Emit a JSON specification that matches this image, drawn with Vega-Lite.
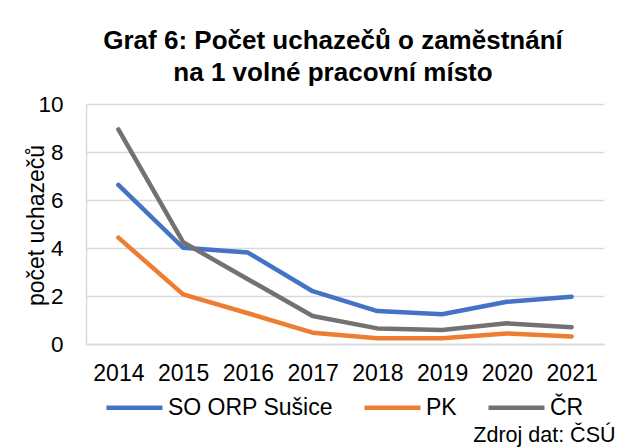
{
  "$schema": "https://vega.github.io/schema/vega-lite/v6.json",
  "autosize": {"type": "none"},
  "width": 518,
  "height": 240,
  "padding": {"left": 86, "top": 104, "right": 23, "bottom": 103},
  "background": "white",
  "title": {
    "text": ["Graf 6: Počet uchazečů o zaměstnání", "na 1 volné pracovní místo"],
    "font": "Liberation Sans",
    "fontSize": 26,
    "fontWeight": "bold",
    "color": "#000000",
    "anchor": "middle",
    "lineHeight": 32,
    "dx": -12,
    "offset": 7
  },
  "data": {
    "values": [
      {"year": "2014", "series": "SO ORP Sušice", "value": 6.63},
      {"year": "2015", "series": "SO ORP Sušice", "value": 4.01},
      {"year": "2016", "series": "SO ORP Sušice", "value": 3.81},
      {"year": "2017", "series": "SO ORP Sušice", "value": 2.2},
      {"year": "2018", "series": "SO ORP Sušice", "value": 1.37},
      {"year": "2019", "series": "SO ORP Sušice", "value": 1.24},
      {"year": "2020", "series": "SO ORP Sušice", "value": 1.76},
      {"year": "2021", "series": "SO ORP Sušice", "value": 1.97},
      {"year": "2014", "series": "PK", "value": 4.43},
      {"year": "2015", "series": "PK", "value": 2.07},
      {"year": "2016", "series": "PK", "value": 1.28},
      {"year": "2017", "series": "PK", "value": 0.47},
      {"year": "2018", "series": "PK", "value": 0.24},
      {"year": "2019", "series": "PK", "value": 0.24},
      {"year": "2020", "series": "PK", "value": 0.44},
      {"year": "2021", "series": "PK", "value": 0.31},
      {"year": "2014", "series": "ČR", "value": 8.94},
      {"year": "2015", "series": "ČR", "value": 4.24},
      {"year": "2016", "series": "ČR", "value": 2.7},
      {"year": "2017", "series": "ČR", "value": 1.17},
      {"year": "2018", "series": "ČR", "value": 0.65},
      {"year": "2019", "series": "ČR", "value": 0.58},
      {"year": "2020", "series": "ČR", "value": 0.86},
      {"year": "2021", "series": "ČR", "value": 0.7}
    ]
  },
  "mark": {"type": "line", "strokeWidth": 4.5, "strokeCap": "round", "strokeJoin": "round"},
  "encoding": {
    "x": {
      "field": "year",
      "type": "ordinal",
      "scale": {"type": "point", "padding": 0.5},
      "axis": {
        "title": "Zdroj dat: ČSÚ",
        "titleFont": "Liberation Sans",
        "titleFontSize": 21.5,
        "titleFontWeight": "normal",
        "titleColor": "#000000",
        "titleAnchor": null,
        "titleAlign": "right",
        "titleBaseline": "alphabetic",
        "titleX": 529,
        "titleY": 97,
        "labelAngle": 0,
        "labelFont": "Liberation Sans",
        "labelFontSize": 23,
        "labelColor": "#000000",
        "labelPadding": 18,
        "ticks": false,
        "domain": true,
        "domainColor": "#d9d9d9",
        "domainWidth": 1.5,
        "grid": false
      }
    },
    "y": {
      "field": "value",
      "type": "quantitative",
      "scale": {"domain": [0, 10], "nice": false},
      "axis": {
        "values": [0, 2, 4, 6, 8, 10],
        "title": "počet uchazečů",
        "titleFont": "Liberation Sans",
        "titleFontSize": 23,
        "titleFontWeight": "normal",
        "titleColor": "#000000",
        "titleAnchor": null,
        "titleBaseline": "middle",
        "titleX": -50,
        "titleY": 121,
        "titleAngle": -90,
        "titleAlign": "center",
        "labelFont": "Liberation Sans",
        "labelFontSize": 22.5,
        "labelColor": "#000000",
        "labelPadding": 23,
        "ticks": false,
        "domain": true,
        "domainColor": "#d9d9d9",
        "domainWidth": 1.5,
        "grid": true,
        "gridColor": "#d9d9d9",
        "gridWidth": 1.5
      }
    },
    "color": {
      "field": "series",
      "type": "nominal",
      "scale": {
        "domain": ["SO ORP Sušice", "PK", "ČR"],
        "range": ["#4472C4", "#ED7D31", "#767171"]
      },
      "legend": {
        "title": null,
        "orient": "none",
        "direction": "horizontal",
        "legendX": 18,
        "legendY": 273,
        "symbolType": "stroke",
        "symbolSize": 3136,
        "symbolStrokeWidth": 4.7,
        "labelFont": "Liberation Sans",
        "labelFontSize": 23,
        "labelColor": "#000000",
        "labelOffset": 3,
        "labelLimit": 400,
        "columnPadding": 22
      }
    }
  },
  "config": {"view": {"stroke": null}}
}
